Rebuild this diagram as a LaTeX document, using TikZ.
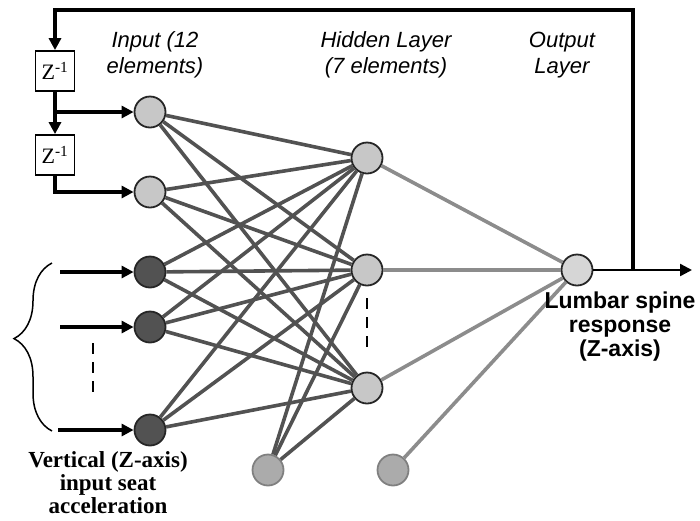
\documentclass[tikz,border=0pt]{standalone}
\usepackage{fontspec}
\setmainfont{Liberation Serif}
\setsansfont{Liberation Sans}
\usetikzlibrary{arrows.meta,decorations.pathreplacing}
\begin{document}
\begin{tikzpicture}[x=1pt,y=-1pt,
  neuron/.style={circle,draw=black!85,line width=1.8pt,minimum size=31pt,inner sep=0pt},
  lightn/.style={neuron,fill=black!22},
  darkn/.style={neuron,fill=black!68},
  biasn/.style={neuron,draw=black!50,fill=black!33},
  outn/.style={neuron,fill=black!16},
  zbox/.style={draw,line width=1.8pt,minimum width=39pt,minimum height=40pt,inner sep=0pt,font=\fontsize{22}{22}\selectfont},
  sig/.style={line width=3.3pt,-{Triangle[length=12pt,width=12pt]}},
  ih/.style={line width=3.6pt,draw=black!68},
  ho/.style={line width=3.6pt,draw=black!45},
  dotsline/.style={line width=2.4pt,dash pattern=on 11pt off 8pt},
  lab/.style={font=\sffamily\itshape\fontsize{22}{26}\selectfont,align=center},
]
\useasboundingbox (0,0) rectangle (700,520);

% input nodes
\node[lightn] (i1) at (150,112) {};
\node[lightn] (i2) at (150,192) {};
\node[darkn] (i3) at (150,272) {};
\node[darkn] (i4) at (150,327) {};
\node[darkn] (i5) at (150,430) {};
% hidden nodes
\node[lightn] (h1) at (367,158) {};
\node[lightn] (h2) at (367,270) {};
\node[lightn] (h3) at (367,388) {};
% bias nodes
\node[biasn] (b1) at (268,470) {};
\node[biasn] (b2) at (393,470) {};
% output
\node[outn] (o) at (577,270) {};

% delay boxes
\node[zbox] (z1) at (55,71) {Z\textsuperscript{-1}};
\node[zbox] (z2) at (55,155) {Z\textsuperscript{-1}};

% input-hidden connections
\foreach \i in {i1,i2,i3,i4,i5,b1}
  \foreach \h in {h1,h2,h3}
    \draw[ih] (\i) -- (\h);
% hidden-output connections
\foreach \h in {h1,h2,h3,b2}
  \draw[ho] (\h) -- (o);

% feedback and delays
\coordinate (tap) at (633,270);
\coordinate (topr) at (633,10);
\coordinate (br) at (55,112);
\coordinate (oend) at (692,270);
\draw[sig] (tap) -- (topr) -| (z1.north);
\draw[sig] (z1.south) -- (z2.north);
\draw[sig] (br) -- (i1);
\draw[sig] (z2.south) |- (i2);
\draw[line width=2.4pt,-{Triangle[length=12pt,width=12pt]}] (o) -- (oend);

% external inputs
\coordinate (a3) at (60,272);
\coordinate (a4) at (60,327);
\coordinate (a5) at (58,430);
\draw[sig] (a3) -- (i3);
\draw[sig] (a4) -- (i4);
\draw[sig] (a5) -- (i5);

% dashed ellipsis lines
\coordinate (d1a) at (93,343);
\coordinate (d1b) at (93,395);
\draw[dotsline] (d1a) -- (d1b);
\coordinate (d2a) at (367,298);
\coordinate (d2b) at (367,352);
\draw[dotsline] (d2a) -- (d2b);

% brace
\coordinate (bra) at (52,431);
\coordinate (brb) at (52,263);
\draw[line width=1.5pt,decorate,decoration={brace,amplitude=38pt,aspect=0.55}] (bra) -- (brb);

% labels
\node[lab] (tin) at (155,55) {Input (12\\elements)};
\node[lab] (thid) at (386,55) {Hidden Layer\\(7 elements)};
\node[lab] (tout) at (562,55) {Output\\Layer};
\node[font=\sffamily\bfseries\fontsize{23}{24}\selectfont,align=center] (tlum) at (620,327) {Lumbar spine\\response\\(Z-axis)};
\node[font=\bfseries\fontsize{23}{23}\selectfont,align=center] (tvert) at (108,483) {Vertical (Z-axis)\\input seat\\acceleration};
\end{tikzpicture}
\end{document}
